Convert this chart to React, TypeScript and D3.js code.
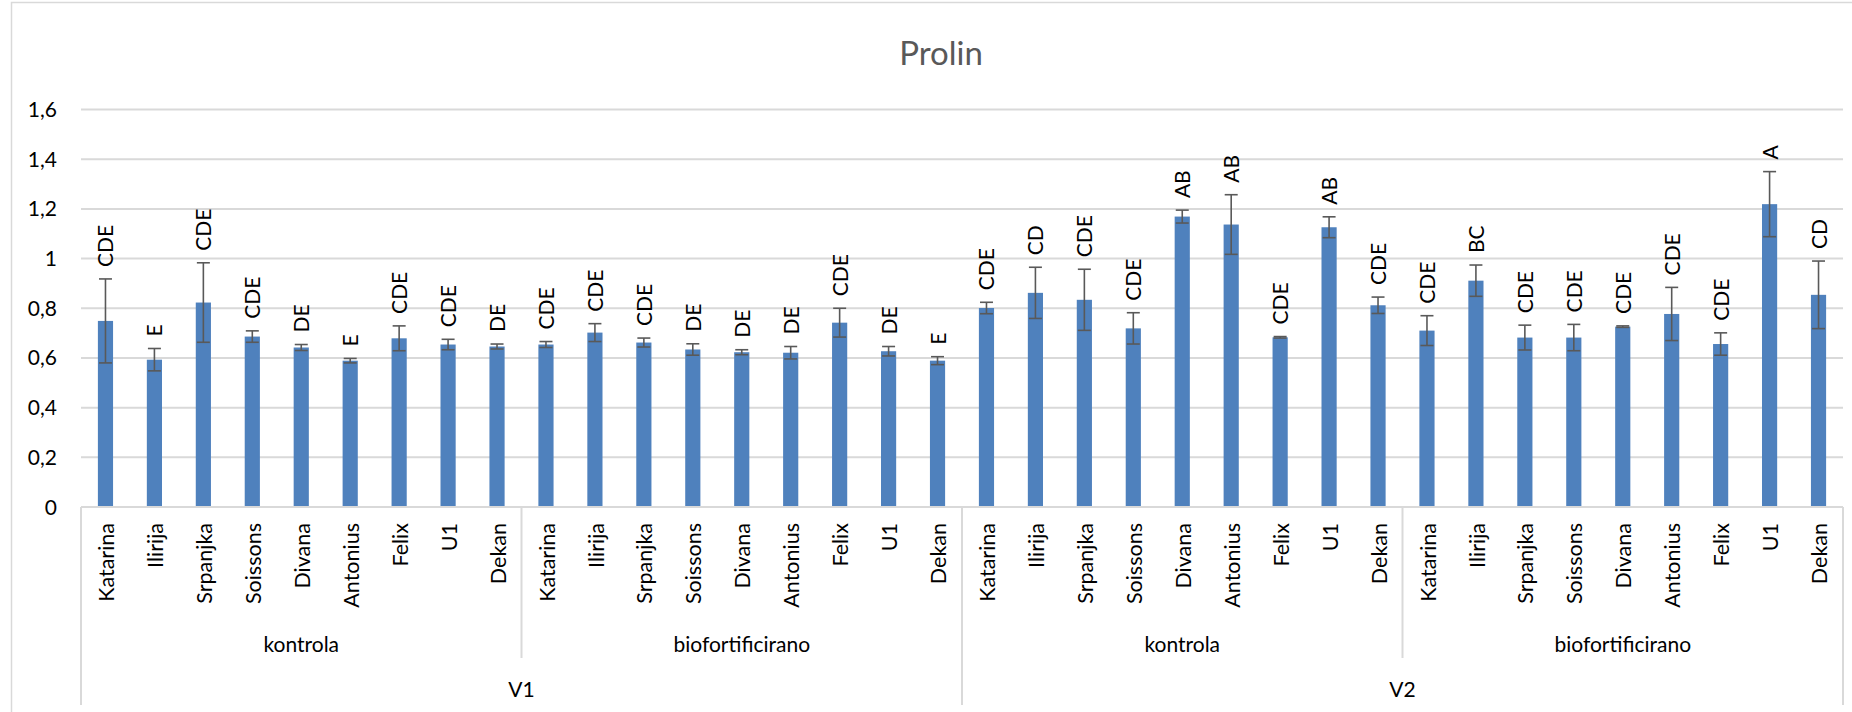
import React from "react";
import * as d3 from "d3";

const varieties = ["Katarina", "Ilirija", "Srpanjka", "Soissons", "Divana", "Antonius", "Felix", "U1", "Dekan"];
const treatments = ["kontrola", "biofortificirano"];
const locations = ["V1", "V2"];

const valuesV1Kontrola = [0.749, 0.593, 0.823, 0.686, 0.642, 0.589, 0.679, 0.654, 0.646];
const valuesV1Bio = [0.654, 0.702, 0.662, 0.634, 0.623, 0.621, 0.742, 0.627, 0.589];
const valuesV2Kontrola = [0.801, 0.862, 0.834, 0.719, 1.169, 1.137, 0.683, 1.126, 0.812];
const valuesV2Bio = [0.710, 0.911, 0.682, 0.682, 0.726, 0.777, 0.656, 1.219, 0.854];

const errV1Kontrola = [0.169, 0.045, 0.160, 0.023, 0.012, 0.009, 0.050, 0.021, 0.010];
const errV1Bio = [0.012, 0.036, 0.018, 0.023, 0.010, 0.025, 0.058, 0.019, 0.016];
const errV2Kontrola = [0.023, 0.103, 0.123, 0.063, 0.026, 0.120, 0.003, 0.042, 0.033];
const errV2Bio = [0.060, 0.063, 0.050, 0.053, 0.003, 0.107, 0.045, 0.131, 0.136];

const lettersV1Kontrola = ["CDE", "E", "CDE", "CDE", "DE", "E", "CDE", "CDE", "DE"];
const lettersV1Bio = ["CDE", "CDE", "CDE", "DE", "DE", "DE", "CDE", "DE", "E"];
const lettersV2Kontrola = ["CDE", "CD", "CDE", "CDE", "AB", "AB", "CDE", "AB", "CDE"];
const lettersV2Bio = ["CDE", "BC", "CDE", "CDE", "CDE", "CDE", "CDE", "A", "CD"];

const yTicks = [0, 0.2, 0.4, 0.6, 0.8, 1, 1.2, 1.4, 1.6];

const W = 1852;
const H = 712;
const FONT = "Lato, 'Open Sans', sans-serif";

export default function App() {
  const values = [...valuesV1Kontrola, ...valuesV1Bio, ...valuesV2Kontrola, ...valuesV2Bio];
  const errs = [...errV1Kontrola, ...errV1Bio, ...errV2Kontrola, ...errV2Bio];
  const letters = [...lettersV1Kontrola, ...lettersV1Bio, ...lettersV2Kontrola, ...lettersV2Bio];
  const rows = values.map((v, i) => ({
    i,
    value: v,
    err: errs[i],
    letter: letters[i],
    variety: varieties[i % varieties.length],
  }));

  const left = 81;
  const right = 1843;
  const y0 = 507;
  const yTop = 109.5;

  const x = d3
    .scaleBand<number>()
    .domain(rows.map((r) => r.i))
    .range([left, right])
    .paddingInner(0.69)
    .paddingOuter(0.345);
  const step = x.step();
  const cx = (i: number) => (x(i) as number) + x.bandwidth() / 2;

  const y = d3.scaleLinear().domain([0, 1.6]).range([y0, yTop]);
  const fmt = (v: number) => d3.format("~g")(+v.toFixed(1)).replace(".", ",");

  const groupSize = varieties.length;
  const nTreat = treatments.length;
  const level2 = locations.flatMap((loc, li) =>
    treatments.map((t, ti) => ({ label: t, start: (li * nTreat + ti) * groupSize }))
  );
  const level1 = locations.map((loc, li) => ({ label: loc, start: li * nTreat * groupSize }));

  const tableBottom = 705;
  const level2Bottom = 658;
  const lineColor = "#d9d9d9";
  const capHalf = 6.5;

  return (
    <svg
      width={W}
      height={H}
      style={{ position: "absolute", left: 0, top: 0, background: "#fff" }}
      fontFamily={FONT}
    >
      <rect x={0} y={0} width={W} height={H} fill="#fff" />
      <rect x={11.5} y={2.5} width={W + 40} height={H + 40} fill="none" stroke={lineColor} strokeWidth={1.5} />

      <text x={941} y={65} textAnchor="middle" fontSize={33} fill="#595959">
        Prolin
      </text>

      {yTicks.map((t) => (
        <g key={t}>
          {t > 0 && <line x1={left} x2={right} y1={y(t)} y2={y(t)} stroke={lineColor} strokeWidth={2} />}
          <text x={57} y={y(t)} dy="0.36em" textAnchor="end" fontSize={21} fill="#000">
            {fmt(t)}
          </text>
        </g>
      ))}

      {rows.map((r) => (
        <rect
          key={"b" + r.i}
          x={x(r.i)}
          y={y(r.value)}
          width={x.bandwidth()}
          height={y0 - y(r.value)}
          fill="#4f81bd"
        />
      ))}

      {rows.map((r) => {
        const c = cx(r.i);
        const yHi = y(r.value + r.err);
        const yLo = y(r.value - r.err);
        return (
          <g key={"e" + r.i} stroke="#595959" strokeWidth={1.6}>
            <line x1={c} x2={c} y1={yHi} y2={yLo} />
            <line x1={c - capHalf} x2={c + capHalf} y1={yHi} y2={yHi} />
            <line x1={c - capHalf} x2={c + capHalf} y1={yLo} y2={yLo} />
          </g>
        );
      })}

      {rows.map((r) => {
        const c = cx(r.i);
        const yy = y(r.value + r.err) - 12;
        return (
          <text
            key={"l" + r.i}
            transform={`translate(${c},${yy}) rotate(-90)`}
            dy="0.38em"
            textAnchor="start"
            fontSize={21}
            fill="#000"
          >
            {r.letter}
          </text>
        );
      })}

      {/* category table */}
      <line x1={left} x2={right} y1={y0} y2={y0} stroke={lineColor} strokeWidth={2} />
      <line x1={left} x2={left} y1={y0} y2={tableBottom} stroke={lineColor} strokeWidth={2} />
      <line x1={right} x2={right} y1={y0} y2={tableBottom} stroke={lineColor} strokeWidth={2} />
      {level2.slice(1).map((g) => {
        const xx = left + g.start * step;
        const isL1 = g.start % (nTreat * groupSize) === 0;
        return (
          <line
            key={"d" + g.start}
            x1={xx}
            x2={xx}
            y1={y0}
            y2={isL1 ? tableBottom : level2Bottom}
            stroke={lineColor}
            strokeWidth={2}
          />
        );
      })}

      {rows.map((r) => (
        <text
          key={"v" + r.i}
          transform={`translate(${cx(r.i)},523) rotate(-90)`}
          dy="0.4em"
          textAnchor="end"
          fontSize={21.5}
          fill="#000"
        >
          {r.variety}
        </text>
      ))}

      {level2.map((g) => (
        <text
          key={"t" + g.start}
          x={left + (g.start + groupSize / 2) * step}
          y={651.5}
          textAnchor="middle"
          fontSize={21}
          fill="#000"
        >
          {g.label}
        </text>
      ))}

      {level1.map((g) => (
        <text
          key={"loc" + g.start}
          x={left + (g.start + (nTreat * groupSize) / 2) * step}
          y={697}
          textAnchor="middle"
          fontSize={21}
          fill="#000"
        >
          {g.label}
        </text>
      ))}
    </svg>
  );
}
